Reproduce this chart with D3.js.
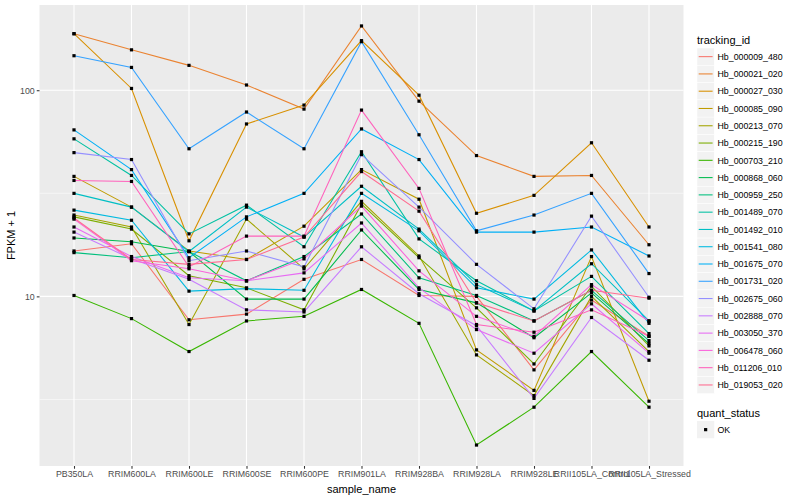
<!DOCTYPE html>
<html>
<head>
<meta charset="utf-8">
<script src="https://cdn.jsdelivr.net/npm/d3@7"></script>
<style>
  body { margin: 0; background: #fff; }
  text { font-family: "Liberation Sans", Arial, Helvetica, sans-serif; }
</style>
</head>
<body>
<svg id="chart"></svg>
<script>
// categories on the x axis
const samples = ["PB350LA", "RRIM600LA", "RRIM600LE", "RRIM600SE", "RRIM600PE", "RRIM901LA",
  "RRIM928BA", "RRIM928LA", "RRIM928LE", "RRII105LA_Control", "RRII105LA_Stressed"];

const trackingIds = ["Hb_000009_480", "Hb_000021_020", "Hb_000027_030", "Hb_000085_090", "Hb_000213_070",
  "Hb_000215_190", "Hb_000703_210", "Hb_000868_060", "Hb_000959_250", "Hb_001489_070",
  "Hb_001492_010", "Hb_001541_080", "Hb_001675_070", "Hb_001731_020", "Hb_002675_060",
  "Hb_002888_070", "Hb_003050_370", "Hb_006478_060", "Hb_011206_010", "Hb_019053_020"];

// ggplot hue palette, 20 levels
const colors = ["#F8766D", "#EA8331", "#D89000", "#C09B00", "#A3A500", "#7CAE00", "#39B600", "#00BB4E",
  "#00BF7D", "#00C1A3", "#00BFC4", "#00BAE0", "#00B0F6", "#35A2FF", "#9590FF", "#C77CFF",
  "#E76BF3", "#FA62DB", "#FF62BC", "#FF6C91"];

// FPKM + 1 per sample, one array per gene
const hb000009_480 = [16.6, 18.0, 7.7, 8.2, 12.1, 15.1, 10.1, 10.0, 4.4, 9.6, 6.4];
const hb000021_020 = [188, 157, 132, 106, 81, 205, 88.5, 48.2, 38.2, 38.6, 17.8];
const hb000027_030 = [188, 102, 18.6, 68.6, 84.7, 174, 94.6, 25.3, 30.9, 55.6, 21.7];
const hb000085_090 = [38.2, 27.1, 16.6, 15.1, 21.9, 41.2, 29.6, 5.5, 3.5, 15.6, 3.1];
const hb000213_070 = [24.8, 21.7, 7.3, 23.7, 13.6, 28.9, 15.7, 5.2, 3.3, 10.0, 5.4];
const hb000215_190 = [24.3, 21.2, 12.6, 11.0, 8.6, 28.0, 15.4, 8.8, 4.7, 11.2, 5.75];
const hb000703_210 = [10.1, 7.8, 5.4, 7.6, 8.0, 10.8, 7.4, 1.9, 2.9, 5.4, 2.9];
const hb000868_060 = [19.2, 18.4, 16.5, 9.7, 9.7, 21.0, 10.8, 9.3, 6.3, 10.4, 5.9];
const hb000959_250 = [16.3, 15.4, 16.5, 11.9, 15.6, 25.1, 12.3, 10.1, 7.6, 10.7, 6.1];
const hb001489_070 = [58.1, 38.6, 20.1, 27.7, 17.4, 50.3, 19.0, 11.9, 8.5, 12.5, 6.6];
const hb001492_010 = [31.6, 27.1, 16.5, 27.1, 19.4, 34.2, 21.2, 11.4, 8.5, 14.4, 7.6];
const hb001541_080 = [26.2, 23.4, 10.6, 10.9, 10.7, 31.6, 20.8, 11.0, 9.7, 16.8, 7.4];
const hb001675_070 = [64.2, 41.2, 15.4, 24.3, 31.6, 64.9, 46.1, 20.5, 20.5, 21.7, 15.7];
const hb001731_020 = [147, 129, 52.0, 78.4, 52.0, 172, 60.8, 20.8, 24.8, 31.6, 12.9];
const hb002675_060 = [49.8, 46.1, 14.9, 16.6, 13.9, 48.7, 27.1, 14.3, 8.7, 24.5, 9.9];
const hb002888_070 = [20.5, 15.2, 12.1, 8.6, 8.4, 17.4, 10.3, 7.2, 3.2, 7.9, 4.9];
const hb003050_370 = [21.7, 15.6, 12.3, 11.9, 13.0, 22.7, 11.0, 6.9, 5.3, 9.2, 5.3];
const hb006478_060 = [23.7, 14.9, 13.6, 11.9, 15.2, 27.4, 13.3, 8.0, 6.4, 11.4, 7.6];
const hb011206_010 = [36.5, 36.1, 13.9, 19.6, 19.6, 80.1, 33.4, 7.3, 6.7, 8.6, 6.4];
const hb019053_020 = [24.0, 15.1, 14.3, 15.1, 19.4, 40.3, 25.9, 9.3, 7.6, 10.7, 9.8];

const seriesValues = [hb000009_480, hb000021_020, hb000027_030, hb000085_090, hb000213_070,
  hb000215_190, hb000703_210, hb000868_060, hb000959_250, hb001489_070,
  hb001492_010, hb001541_080, hb001675_070, hb001731_020, hb002675_060,
  hb002888_070, hb003050_370, hb006478_060, hb011206_010, hb019053_020];

const yTicks = [10, 100];
const yMinor = [Math.sqrt(10), Math.sqrt(1000)];

const svgWidth = 800, svgHeight = 500;
const panel = {left: 39.5, right: 683.5, top: 5, bottom: 466};

const chart = d3.select("#chart")
    .attr("width", svgWidth)
    .attr("height", svgHeight);

// scales
const x = d3.scalePoint()
    .domain(samples)
    .range([panel.left, panel.right])
    .padding(0.6);

const allVals = seriesValues.flat();
const lo = Math.log10(d3.min(allVals)), hi = Math.log10(d3.max(allVals));
const pad = (hi - lo) * 0.05;
const y = d3.scaleLog()
    .domain([Math.pow(10, lo - pad), Math.pow(10, hi + pad)])
    .range([panel.bottom, panel.top]);

// panel background + grid
chart.append("rect")
    .attr("x", panel.left).attr("y", panel.top)
    .attr("width", panel.right - panel.left).attr("height", panel.bottom - panel.top)
    .attr("fill", "#EBEBEB");

const grid = chart.append("g");
grid.selectAll(".minor").data(yMinor).enter().append("line")
    .attr("x1", panel.left).attr("x2", panel.right)
    .attr("y1", d => y(d)).attr("y2", d => y(d))
    .attr("stroke", "#fff").attr("stroke-width", 0.55);
grid.selectAll(".majorY").data(yTicks).enter().append("line")
    .attr("x1", panel.left).attr("x2", panel.right)
    .attr("y1", d => y(d)).attr("y2", d => y(d))
    .attr("stroke", "#fff").attr("stroke-width", 1.1);
grid.selectAll(".majorX").data(samples).enter().append("line")
    .attr("x1", d => x(d)).attr("x2", d => x(d))
    .attr("y1", panel.top).attr("y2", panel.bottom)
    .attr("stroke", "#fff").attr("stroke-width", 1.1);

// lines
const valueline = d3.line()
    .x((d, i) => x(samples[i]))
    .y(d => y(d));

chart.append("g").selectAll("path")
    .data(seriesValues)
    .enter().append("path")
    .attr("d", valueline)
    .attr("fill", "none")
    .attr("stroke", (d, i) => colors[i])
    .attr("stroke-width", 1.07);

// points (quant_status OK)
const pts = [];
seriesValues.forEach(s => s.forEach((v, i) => pts.push({sample: samples[i], value: v})));
chart.append("g").selectAll("rect")
    .data(pts)
    .enter().append("rect")
    .attr("x", d => x(d.sample) - 1.6)
    .attr("y", d => y(d.value) - 1.6)
    .attr("width", 3.2).attr("height", 3.2)
    .attr("fill", "#000");

// axes
const xAxis = d3.axisBottom(x).tickSize(2.75).tickPadding(2);
const gx = chart.append("g")
    .attr("transform", "translate(0," + panel.bottom + ")")
    .call(xAxis);
gx.select(".domain").remove();
gx.selectAll("line").attr("stroke", "#333").attr("stroke-width", 1.07);
gx.selectAll("text").attr("fill", "#4D4D4D").style("font-size", "8.8px")
    .style("font-family", "Liberation Sans, Arial, sans-serif");

const yAxis = d3.axisLeft(y).tickValues(yTicks).tickFormat(d3.format("d")).tickSize(2.75).tickPadding(2);
const gy = chart.append("g")
    .attr("transform", "translate(" + panel.left + ",0)")
    .call(yAxis);
gy.select(".domain").remove();
gy.selectAll("line").attr("stroke", "#333").attr("stroke-width", 1.07);
gy.selectAll("text").attr("fill", "#4D4D4D").style("font-size", "8.8px")
    .style("font-family", "Liberation Sans, Arial, sans-serif");

chart.append("text")
    .attr("x", (panel.left + panel.right) / 2)
    .attr("y", 493)
    .attr("text-anchor", "middle")
    .style("font-size", "11px")
    .text("sample_name");

chart.append("text")
    .attr("transform", "translate(15," + ((panel.top + panel.bottom) / 2) + ") rotate(-90)")
    .attr("text-anchor", "middle")
    .style("font-size", "11px")
    .text("FPKM + 1");

// legend: tracking_id
const legend = chart.append("g").attr("transform", "translate(697,0)");
legend.append("text")
    .attr("x", 0).attr("y", 44)
    .style("font-size", "11px")
    .text("tracking_id");

const keyH = 17.28;
const keys = legend.selectAll(".key")
    .data(trackingIds)
    .enter().append("g")
    .attr("transform", (d, i) => "translate(0," + (48 + i * keyH) + ")");
keys.append("rect")
    .attr("width", 17.28).attr("height", keyH)
    .attr("fill", "#F2F2F2").attr("stroke", "#fff").attr("stroke-width", 0.5);
keys.append("line")
    .attr("x1", 1.7).attr("x2", 15.6)
    .attr("y1", keyH / 2).attr("y2", keyH / 2)
    .attr("stroke", (d, i) => colors[i])
    .attr("stroke-width", 1.07);
keys.append("text")
    .attr("x", 20.5).attr("y", keyH / 2 + 3.2)
    .style("font-size", "8.8px")
    .text(d => d);

// legend: quant_status
legend.append("text")
    .attr("x", 0).attr("y", 417)
    .style("font-size", "11px")
    .text("quant_status");
const ok = legend.append("g").attr("transform", "translate(0,421)");
ok.append("rect")
    .attr("width", 17.28).attr("height", keyH)
    .attr("fill", "#F2F2F2");
ok.append("rect")
    .attr("x", 8.64 - 1.6).attr("y", keyH / 2 - 1.6)
    .attr("width", 3.2).attr("height", 3.2)
    .attr("fill", "#000");
ok.append("text")
    .attr("x", 20.5).attr("y", keyH / 2 + 3.2)
    .style("font-size", "8.8px")
    .text("OK");
</script>
</body>
</html>
